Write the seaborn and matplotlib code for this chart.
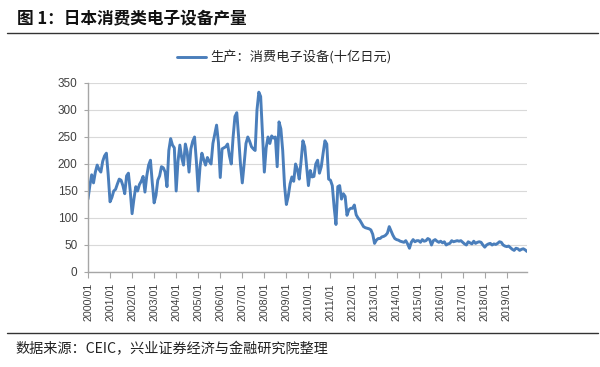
import numpy as np
import pandas as pd
import matplotlib
matplotlib.use("Agg")
import matplotlib.pyplot as plt
from matplotlib.lines import Line2D
import seaborn as sns

# ---- data (monthly, 2000/01 - 2019/12), 十亿日元 ----
v2000 = [135, 160, 180, 165, 185, 198, 190, 185, 205, 215, 220, 180]
v2001 = [130, 138, 150, 153, 163, 172, 170, 160, 145, 178, 183, 150]
v2002 = [108, 135, 158, 150, 162, 168, 177, 148, 178, 198, 207, 165]
v2003 = [128, 142, 170, 178, 195, 193, 185, 158, 225, 247, 235, 230]
v2004 = [150, 205, 235, 212, 198, 237, 222, 185, 228, 242, 250, 205]
v2005 = [150, 195, 220, 208, 198, 212, 205, 200, 238, 255, 272, 240]
v2006 = [175, 228, 230, 232, 237, 215, 200, 250, 288, 295, 250, 200]
v2007 = [165, 200, 238, 250, 242, 232, 228, 225, 300, 333, 325, 255]
v2008 = [185, 230, 250, 238, 252, 248, 250, 195, 278, 265, 225, 160]
v2009 = [125, 140, 163, 176, 168, 200, 190, 172, 205, 243, 232, 195]
v2010 = [160, 188, 176, 177, 200, 207, 183, 195, 220, 243, 237, 172]
v2011 = [170, 160, 120, 88, 158, 160, 135, 145, 140, 105, 115, 118]
v2012 = [118, 124, 106, 100, 96, 90, 84, 82, 81, 80, 78, 70]
v2013 = [53, 59, 62, 62, 65, 66, 68, 72, 84, 76, 68, 62]
v2014 = [60, 59, 57, 56, 55, 58, 52, 44, 55, 60, 56, 58]
v2015 = [58, 55, 60, 57, 58, 62, 60, 50, 58, 60, 57, 55]
v2016 = [57, 54, 56, 50, 52, 53, 58, 56, 57, 58, 57, 58]
v2017 = [55, 52, 50, 56, 54, 52, 57, 53, 55, 56, 55, 50]
v2018 = [46, 50, 52, 53, 50, 52, 51, 53, 56, 55, 50, 48]
v2019 = [47, 48, 45, 42, 40, 44, 43, 40, 42, 43, 41, 38]

years = list(range(2000, 2020))
year_labels = [f"{y}/01" for y in years]
series_name = "生产：消费电子设备(十亿日元)"
title = "图 1：日本消费类电子设备产量"
source = "数据来源：CEIC，兴业证券经济与金融研究院整理"
y_ticks = [0, 50, 100, 150, 200, 250, 300, 350]

values = (v2000 + v2001 + v2002 + v2003 + v2004 + v2005 + v2006 + v2007 + v2008 + v2009
          + v2010 + v2011 + v2012 + v2013 + v2014 + v2015 + v2016 + v2017 + v2018 + v2019)
df = pd.DataFrame({"idx": np.arange(len(values)), "value": values})

sns.set_theme(style="white")
cjk = ["Noto Sans CJK SC", "DejaVu Sans"]
plt.rcParams["font.family"] = cjk

fig = plt.figure(figsize=(6.0, 3.67), dpi=100)
ax = fig.add_axes([88 / 600, 1 - 272 / 367, (527 - 88) / 600, (272 - 83) / 367])

sns.lineplot(data=df, x="idx", y="value", ax=ax, color="#4A7EBB", linewidth=2.1,
             label=series_name)

ax.set_xlim(0, len(values) - 1)
ax.set_ylim(0, 350)
ax.set_yticks(y_ticks)
ax.set_yticklabels([str(t) for t in y_ticks], fontsize=8.5, color="#404040",
                   family="Liberation Sans")
ax.set_xticks([12 * i for i in range(len(years))])
ax.set_xticklabels(year_labels, rotation=90, fontsize=7.7, color="#404040",
                   family="Liberation Sans")
ax.set_xlabel("")
ax.set_ylabel("")

ax.grid(axis="y", color="#D9D9D9", linewidth=0.8)
ax.grid(axis="x", visible=False)
for s in ["top", "right"]:
    ax.spines[s].set_visible(False)
for s in ["left", "bottom"]:
    ax.spines[s].set_color("#A6A6A6")
    ax.spines[s].set_linewidth(1.0)
ax.tick_params(axis="y", which="major", left=True, length=3, width=0.8, color="#A6A6A6", pad=4.5)
ax.tick_params(axis="x", which="major", bottom=True, length=4, width=0.8, color="#A6A6A6", pad=4)

leg = ax.legend(loc="center", bbox_to_anchor=(284 / 600, 1 - 58 / 367),
                bbox_transform=fig.transFigure, frameon=False, fontsize=9.5,
                handlelength=2.2, handletextpad=0.3)
for t in leg.get_texts():
    t.set_color("#262626")

fig.text(17 / 600, 1 - 18 / 367, title, fontsize=12, fontweight="bold", color="#111111",
         va="center", ha="left", family=cjk)
fig.add_artist(Line2D([7 / 600, 598 / 600], [1 - 33 / 367, 1 - 33 / 367],
                      transform=fig.transFigure, color="#333333", linewidth=1.0))
fig.add_artist(Line2D([7 / 600, 598 / 600], [1 - 333 / 367, 1 - 333 / 367],
                      transform=fig.transFigure, color="#333333", linewidth=1.0))
fig.text(15 / 600, 1 - 349 / 367, source, fontsize=10.2, color="#222222",
         va="center", ha="left", family=cjk)

fig.savefig("out.png", dpi=100)
